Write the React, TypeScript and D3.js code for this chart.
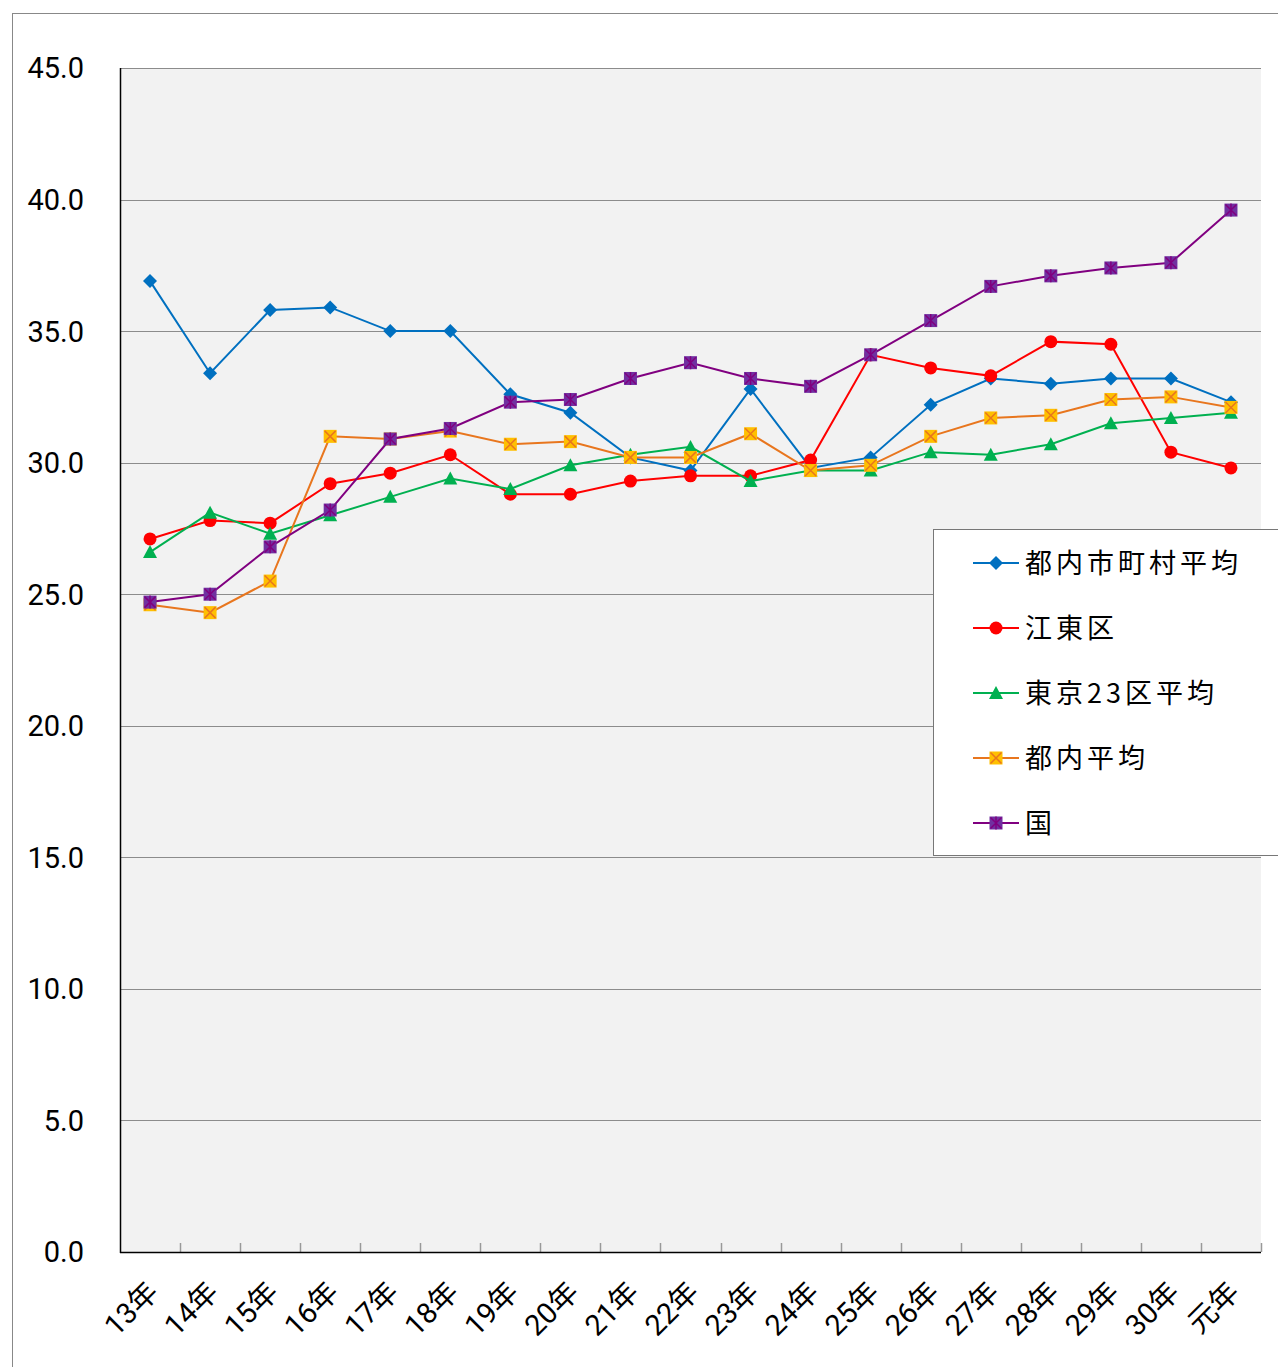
import React, { useEffect, useRef } from 'react';
import * as d3 from 'd3';

const categories = ['13年', '14年', '15年', '16年', '17年', '18年', '19年', '20年', '21年', '22年', '23年', '24年', '25年', '26年', '27年', '28年', '29年', '30年', '元年'];

const shichosonAvg = [36.9, 33.4, 35.8, 35.9, 35.0, 35.0, 32.6, 31.9, 30.2, 29.7, 32.8, 29.8, 30.2, 32.2, 33.2, 33.0, 33.2, 33.2, 32.3];
const kotoku = [27.1, 27.8, 27.7, 29.2, 29.6, 30.3, 28.8, 28.8, 29.3, 29.5, 29.5, 30.1, 34.1, 33.6, 33.3, 34.6, 34.5, 30.4, 29.8];
const ku23Avg = [26.6, 28.1, 27.3, 28.0, 28.7, 29.4, 29.0, 29.9, 30.3, 30.6, 29.3, 29.7, 29.7, 30.4, 30.3, 30.7, 31.5, 31.7, 31.9];
const tonaiAvg = [24.6, 24.3, 25.5, 31.0, 30.9, 31.2, 30.7, 30.8, 30.2, 30.2, 31.1, 29.7, 29.9, 31.0, 31.7, 31.8, 32.4, 32.5, 32.1];
const kuni = [24.7, 25.0, 26.8, 28.2, 30.9, 31.3, 32.3, 32.4, 33.2, 33.8, 33.2, 32.9, 34.1, 35.4, 36.7, 37.1, 37.4, 37.6, 39.6];

const yTicks = [0, 5, 10, 15, 20, 25, 30, 35, 40, 45];

type Series = { name: string; values: number[]; line: string; fill: string; marker: string };

const series: Series[] = [
  { name: '都内市町村平均', values: shichosonAvg, line: '#0070C0', fill: '#0070C0', marker: 'diamond' },
  { name: '江東区', values: kotoku, line: '#FF0000', fill: '#FF0000', marker: 'circle' },
  { name: '東京23区平均', values: ku23Avg, line: '#00B050', fill: '#00B050', marker: 'triangle' },
  { name: '都内平均', values: tonaiAvg, line: '#E8761E', fill: '#FFC000', marker: 'xsquare' },
  { name: '国', values: kuni, line: '#800080', fill: '#7030A0', marker: 'starsquare' },
];

const FONT = "Roboto, 'Noto Sans CJK JP', sans-serif";
const CJK = "'Noto Sans CJK JP', sans-serif";

function drawMarker(g: any, type: string, x: number, y: number, s: Series) {
  if (type === 'diamond') {
    g.append('path').attr('d', `M${x},${y - 7}L${x + 7},${y}L${x},${y + 7}L${x - 7},${y}Z`)
      .attr('fill', s.fill);
  } else if (type === 'circle') {
    g.append('circle').attr('cx', x).attr('cy', y).attr('r', 6.5).attr('fill', s.fill);
  } else if (type === 'triangle') {
    g.append('path').attr('d', `M${x},${y - 7}L${x + 7},${y + 6}L${x - 7},${y + 6}Z`).attr('fill', s.fill);
  } else if (type === 'xsquare') {
    const h = 6.5;
    g.append('rect').attr('x', x - h).attr('y', y - h).attr('width', 2 * h).attr('height', 2 * h).attr('fill', s.fill);
    g.append('path').attr('d', `M${x - h + 1},${y - h + 1}L${x + h - 1},${y + h - 1}M${x + h - 1},${y - h + 1}L${x - h + 1},${y + h - 1}`)
      .attr('stroke', s.line).attr('stroke-width', 1.5);
  } else {
    const h = 6.5;
    g.append('rect').attr('x', x - h).attr('y', y - h).attr('width', 2 * h).attr('height', 2 * h).attr('fill', s.fill);
    g.append('path').attr('d', `M${x - h + 1},${y - h + 1}L${x + h - 1},${y + h - 1}M${x + h - 1},${y - h + 1}L${x - h + 1},${y + h - 1}M${x},${y - h}L${x},${y + h}`)
      .attr('stroke', '#800080').attr('stroke-width', 1.5);
  }
}

const App = () => {
  const ref = useRef<SVGSVGElement>(null);

  useEffect(() => {
    document.body.style.margin = '0';
    if (!ref.current) return;
    const svg = d3.select(ref.current);
    svg.selectAll('*').remove();

    const left = 120, right = 1261, top = 68, bottom = 1252;

    // outer frame
    svg.append('rect').attr('x', 12.5).attr('y', 13.5).attr('width', 1400).attr('height', 1400)
      .attr('fill', 'white').attr('stroke', '#888');

    const x = d3.scaleBand().domain(categories).range([left, right]);
    const y = d3.scaleLinear().domain([0, 45]).range([bottom, top]);

    svg.append('rect').attr('x', left).attr('y', top).attr('width', right - left).attr('height', bottom - top)
      .attr('fill', '#F2F2F2');

    // grid
    svg.append('g').selectAll('line').data(yTicks.filter(d => d > 0)).enter().append('line')
      .attr('x1', left).attr('x2', right)
      .attr('y1', d => Math.round(y(d)) + 0.5).attr('y2', d => Math.round(y(d)) + 0.5)
      .attr('stroke', '#8c8c8c').attr('stroke-width', 1);

    // y labels
    svg.append('g').selectAll('text').data(yTicks).enter().append('text')
      .attr('x', 84).attr('y', d => y(d)).attr('dy', '0.36em')
      .attr('text-anchor', 'end').attr('font-family', FONT).attr('font-size', 29)
      .text(d => d.toFixed(1));

    // ticks (inside, pointing up)
    const bounds = categories.map((c) => x(c)!).concat([right]).slice(1);
    svg.append('g').selectAll('line').data(bounds).enter().append('line')
      .attr('x1', d => Math.round(d) + 0.5).attr('x2', d => Math.round(d) + 0.5)
      .attr('y1', bottom).attr('y2', bottom - 9)
      .attr('stroke', '#999').attr('stroke-width', 1.5);

    // axes lines
    svg.append('line').attr('x1', left + 0.5).attr('x2', left + 0.5).attr('y1', top).attr('y2', bottom + 1)
      .attr('stroke', '#000').attr('stroke-width', 1.5);
    svg.append('line').attr('x1', left).attr('x2', right).attr('y1', bottom + 0.5).attr('y2', bottom + 0.5)
      .attr('stroke', '#000').attr('stroke-width', 1.5);

    // x labels
    svg.append('g').selectAll('text').data(categories).enter().append('text')
      .attr('transform', d => `translate(${x(d)! + x.bandwidth() / 2 + 10},${bottom + 42}) rotate(-45)`)
      .attr('text-anchor', 'end').attr('font-family', FONT).attr('font-size', 29)
      .text(d => d);

    // lines and markers
    const cx = (i: number) => x(categories[i])! + x.bandwidth() / 2;
    series.forEach(s => {
      const line = d3.line<number>().x((_, i) => cx(i)).y(d => y(d));
      svg.append('path').datum(s.values).attr('d', line).attr('fill', 'none')
        .attr('stroke', s.line).attr('stroke-width', 2);
      const g = svg.append('g');
      s.values.forEach((v, i) => drawMarker(g, s.marker, cx(i), y(v), s));
    });

    // legend
    const lg = svg.append('g');
    lg.append('rect').attr('x', 933.5).attr('y', 529.5).attr('width', 400).attr('height', 326)
      .attr('fill', 'white').attr('stroke', '#777');
    series.forEach((s, i) => {
      const ly = 563 + i * 65;
      lg.append('line').attr('x1', 973).attr('x2', 1019).attr('y1', ly).attr('y2', ly)
        .attr('stroke', s.line).attr('stroke-width', 2);
      drawMarker(lg, s.marker, 996, ly, s);
      lg.append('text').attr('x', 1025).attr('y', ly).attr('dy', '0.36em')
        .attr('font-family', CJK).attr('font-size', 27).attr('letter-spacing', 4)
        .text(s.name);
    });
  }, []);

  return <svg ref={ref} width={1278} height={1367} style={{ display: 'block' }} />;
};

export default App;
